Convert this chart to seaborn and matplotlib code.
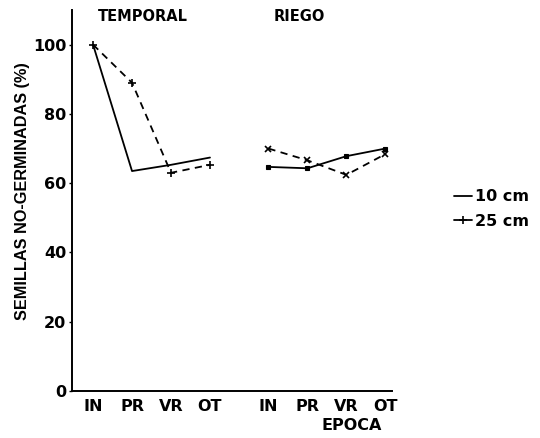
import matplotlib
matplotlib.use("Agg")
import matplotlib.pyplot as plt
from matplotlib.lines import Line2D
import seaborn as sns
import pandas as pd

# Seed survival (%) by sampling season, for two burial depths and two regimes
epocas = ["IN", "PR", "VR", "OT"]
regimenes = ["TEMPORAL", "RIEGO"]
profundidades = ["10 cm", "25 cm"]

temporal_10 = [100, 63.5, 65.3, 67.4]
temporal_25 = [100, 89, 63.0, 65.3]
riego_10 = [64.7, 64.3, 67.8, 70.0]
riego_25 = [70.0, 66.6, 62.4, 68.4]

# x positions of the two season groups (a gap separates the regimes)
group_offset = {"TEMPORAL": 0.0, "RIEGO": 4.5}

rows = []
for reg, vals10, vals25 in [("TEMPORAL", temporal_10, temporal_25),
                            ("RIEGO", riego_10, riego_25)]:
    for i, ep in enumerate(epocas):
        rows.append(dict(regimen=reg, epoca=ep, pos=group_offset[reg] + i,
                         prof="10 cm", valor=vals10[i]))
        rows.append(dict(regimen=reg, epoca=ep, pos=group_offset[reg] + i,
                         prof="25 cm", valor=vals25[i]))
df = pd.DataFrame(rows)

sns.set_theme(style="white")
plt.rcParams["font.family"] = ["DejaVu Sans"]
plt.rcParams["text.color"] = "black"
plt.rcParams["axes.labelcolor"] = "black"
plt.rcParams["xtick.color"] = "black"
plt.rcParams["ytick.color"] = "black"

fig = plt.figure(figsize=(5.4, 4.38), dpi=100)
ax = fig.add_axes([72 / 540, 1 - 391 / 438, 320 / 540, 381 / 438])

styles = {
    ("TEMPORAL", "10 cm"): dict(linestyle="-", marker=None),
    ("TEMPORAL", "25 cm"): dict(linestyle=(0, (4, 3)), marker="+", markersize=6,
                                markeredgewidth=1.2),
    ("RIEGO", "10 cm"): dict(linestyle="-", marker="s", markersize=2.5),
    ("RIEGO", "25 cm"): dict(linestyle=(0, (4, 3)), marker="x", markersize=4.5,
                             markeredgewidth=1.2),
}

for (reg, prof), sub in df.groupby(["regimen", "prof"]):
    st = styles[(reg, prof)]
    sns.lineplot(data=sub, x="pos", y="valor", ax=ax, color="black",
                 linewidth=1.3, linestyle=st["linestyle"],
                 marker=st["marker"],
                 markersize=st.get("markersize", 0),
                 markeredgewidth=st.get("markeredgewidth", 0.8),
                 markeredgecolor="black", markerfacecolor="black",
                 legend=False, sort=True)

ax.set_xlim(-0.54, 7.67)
ax.set_ylim(0, 110)

positions = [group_offset[r] + i for r in regimenes for i in range(len(epocas))]
ax.set_xticks(positions)
ax.set_xticklabels(epocas * 2, fontsize=11.5, fontweight="bold")
ax.set_yticks([0, 20, 40, 60, 80, 100])
ax.set_yticklabels(["0", "20", "40", "60", "80", "100"], fontsize=11.5,
                   fontweight="bold")
ax.tick_params(axis="x", length=0, pad=6)
ax.tick_params(axis="y", length=2, width=1, pad=2, direction="out", left=True)

for side in ["top", "right"]:
    ax.spines[side].set_visible(False)
for side in ["left", "bottom"]:
    ax.spines[side].set_color("black")
    ax.spines[side].set_linewidth(1.4)

ax.set_ylabel("SEMILLAS NO-GERMINADAS (%)", fontsize=11.7, fontweight="bold",
              family="Liberation Sans")
ax.yaxis.set_label_coords(-0.13, 0.525)
ax.set_xlabel("EPOCA", fontsize=11.5, fontweight="bold")
ax.xaxis.set_label_coords(0.875, -0.09)
ax.xaxis.label.set_verticalalignment("center")

# Regime headers above each season group
ax.text(1.27, 108, "TEMPORAL", ha="center", va="center", fontsize=10.5,
        fontweight="bold")
ax.text(5.3, 108, "RIEGO", ha="center", va="center", fontsize=10.5,
        fontweight="bold")

handles = [
    Line2D([], [], color="black", linewidth=1.3, linestyle="-"),
    Line2D([], [], color="black", linewidth=1.3, linestyle="-", marker="+",
           markersize=6, markeredgewidth=1.2),
]
fig.legend(handles, profundidades, loc="upper left",
           bbox_to_anchor=(440 / 540, 1 - 175 / 438), frameon=False,
           handlelength=1.1, handletextpad=0.2, labelspacing=0.6,
           prop=dict(size=11.5, weight="bold"))

fig.savefig("out.png", dpi=100)
